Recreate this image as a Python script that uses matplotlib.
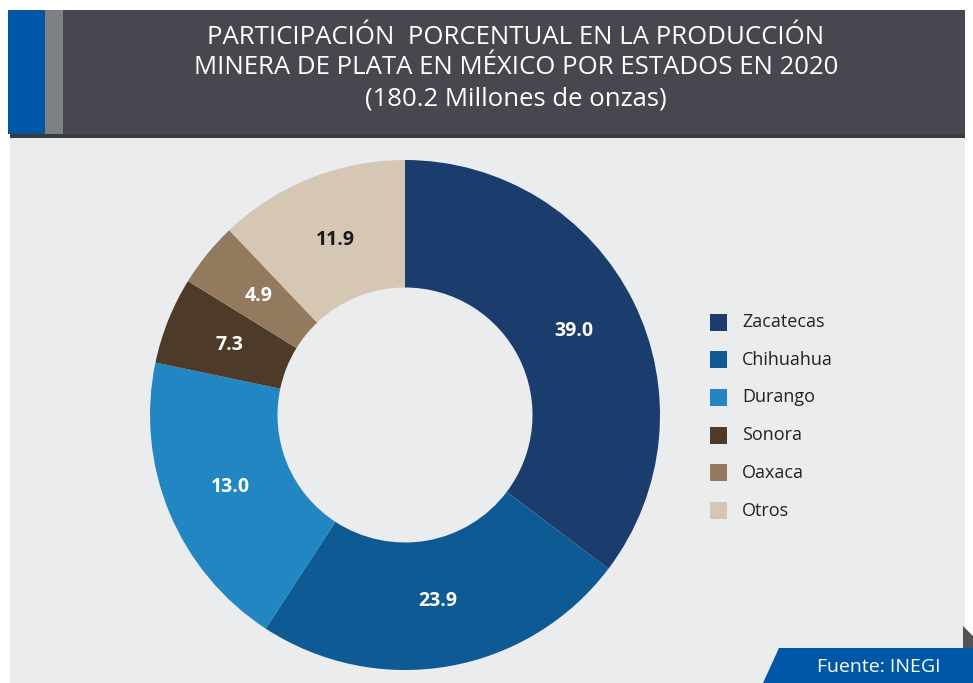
import matplotlib.pyplot as plt
from matplotlib.patches import Rectangle, Polygon

plt.rcParams['font.family'] = ['Open Sans', 'DejaVu Sans']

estados = ['Zacatecas', 'Chihuahua', 'Durango', 'Sonora', 'Oaxaca', 'Otros']
# labels printed on the chart
etiquetas = ['39.0', '23.9', '13.0', '7.3', '4.9', '11.9']
# wedge sizes as drawn in the picture (they do not follow the labels exactly)
sectores = [35.3, 23.9, 19.1, 5.5, 4.1, 12.1]
colores = ['#1b3d6d', '#0e5a94', '#2286c3', '#4d3a28', '#937a5f', '#d6c7b5']
titulo = ('PARTICIPACIÓN  PORCENTUAL EN LA PRODUCCIÓN\n'
          'MINERA DE PLATA EN MÉXICO POR ESTADOS EN 2020\n'
          '(180.2 Millones de onzas)')

W, H = 973, 683
fig = plt.figure(figsize=(W / 100, H / 100), dpi=100)
fig.patch.set_facecolor('white')

# background decorations in pixel coordinates (y from top)
bg = fig.add_axes([0, 0, 1, 1])
bg.set_xlim(0, W)
bg.set_ylim(H, 0)
bg.axis('off')
bg.add_patch(Rectangle((10, 138), 955, 545, color='#ebecee', lw=0))
bg.add_patch(Rectangle((10, 134), 955, 4, color='#3a3b40', lw=0))
bg.add_patch(Rectangle((8, 10), 957, 124, color='#46474f', lw=0))
bg.add_patch(Rectangle((8, 10), 37, 124, color='#0057a6', lw=0))
bg.add_patch(Rectangle((45, 10), 18, 124, color='#7d8185', lw=0))
bg.text(516, 68, titulo, color='white', fontsize=18.5, ha='center', va='center',
        linespacing=1.3)
bg.add_patch(Polygon([(963, 626), (973, 636), (973, 652), (963, 652)], color='#505256', lw=0))
bg.add_patch(Polygon([(779, 648), (973, 648), (973, 683), (763, 683)], color='#0057a6', lw=0))
bg.text(879, 667, 'Fuente: INEGI', color='white', fontsize=14, ha='center', va='center')

# donut
cx, cy, r = 405, 415, 255
ax = fig.add_axes([(cx - r) / W, (H - cy - r) / H, 2 * r / W, 2 * r / H])
ax.set_facecolor('none')
wedges, _, autotexts = ax.pie(sectores, colors=colores, startangle=90, counterclock=False,
                              radius=1, autopct='%.1f', pctdistance=0.74,
                              wedgeprops=dict(width=0.5, linewidth=0),
                              textprops=dict(color='white', fontsize=14, fontweight='bold'))
for t, lab in zip(autotexts, etiquetas):
    t.set_text(lab)
autotexts[-1].set_color('#1a1a1a')
ax.set_xlim(-1, 1)
ax.set_ylim(-1, 1)
ax.set_aspect('equal')

# legend
for i, (est, col) in enumerate(zip(estados, colores)):
    y = 322 + i * 37.7
    bg.add_patch(Rectangle((710, y - 8.5), 17, 17, color=col, lw=0))
    bg.text(742, y, est, fontsize=13, color='#222222', va='center', ha='left')

fig.savefig('out.png', dpi=100)
